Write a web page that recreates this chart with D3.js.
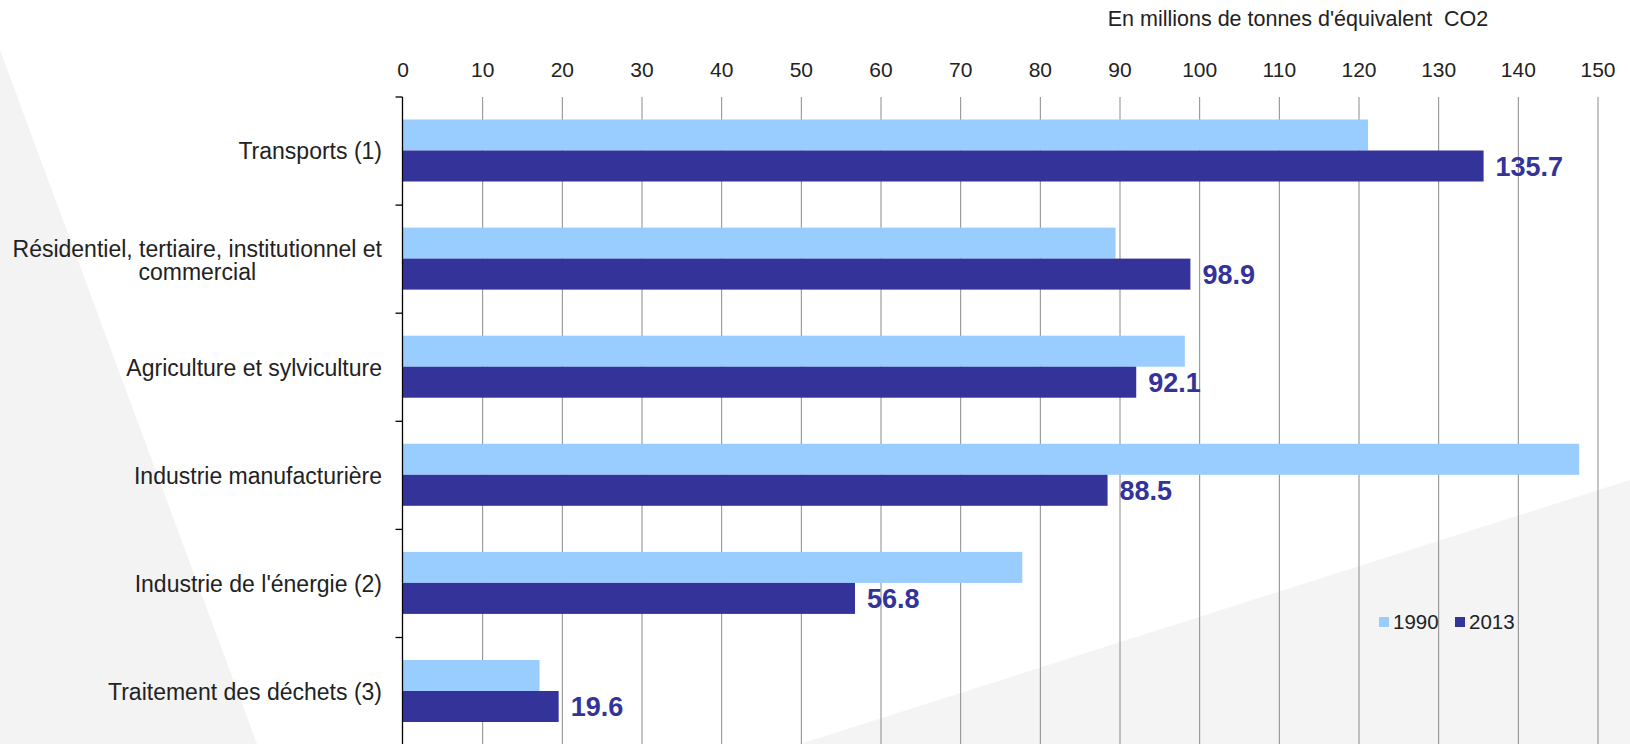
<!DOCTYPE html>
<html><head><meta charset="utf-8">
<script src="https://cdn.jsdelivr.net/npm/d3@7"></script>
<style>
body{margin:0;background:#fff;}
svg{display:block;font-family:"Liberation Sans",Arial,sans-serif;}
</style>
</head><body>
<svg id="c" width="1630" height="744"></svg>
<script>
const categories = [
  "Transports (1)",
  "Résidentiel, tertiaire, institutionnel et commercial",
  "Agriculture et sylviculture",
  "Industrie manufacturière",
  "Industrie de l'énergie (2)",
  "Traitement des déchets (3)"
];
const series = ["1990", "2013"];
const values1990 = [121.2, 89.5, 98.2, 147.7, 77.8, 17.2];
const values2013 = [135.7, 98.9, 92.1, 88.5, 56.8, 19.6];
const xTicks = [0, 10, 20, 30, 40, 50, 60, 70, 80, 90, 100, 110, 120, 130, 140, 150];
const axisTitle = "En millions de tonnes d'équivalent  CO2";
const colors = {"1990": "#99CCFF", "2013": "#333399"};

const svg = d3.select("#c");
const W = 1630, H = 744;

// background shapes
svg.append("rect").attr("width", W).attr("height", H).attr("fill", "#ffffff");
svg.append("path").attr("d", "M0,50 L257,744 L0,744 Z").attr("fill", "#f3f3f3");
svg.append("path").attr("d", "M800,744 L1630,480 L1630,744 Z").attr("fill", "#f4f4f4");

const plotTop = 97, step = 108.1;
const plotBottom = plotTop + step * categories.length;
const x = d3.scaleLinear().domain([0, 150]).range([402.5, 1597.5]);
const y0 = d3.scaleBand().domain(categories).range([plotTop, plotBottom]).padding(0);
const y1 = d3.scaleBand().domain(series).range([22.5, 84.5]).padding(0);

// top axis with gridlines
const xAxis = d3.axisTop(x).tickValues(xTicks).tickSize(-(plotBottom - plotTop)).tickPadding(20).tickFormat(d3.format("d"));
const gx = svg.append("g").attr("transform", `translate(0,${plotTop})`).call(xAxis);
gx.select(".domain").remove();
gx.selectAll(".tick line").attr("stroke", "#8a8a8a").attr("stroke-width", 1)
  .filter(d => d === 0).remove();
gx.selectAll(".tick text").attr("fill", "#222").attr("font-size", 21)
  .attr("font-family", "'Liberation Sans',Arial,sans-serif");

// title
svg.append("text").attr("x", 1298).attr("y", 26).attr("text-anchor", "middle")
  .attr("font-size", 21.5).attr("fill", "#222").style("white-space", "pre").text(axisTitle);

// bars
const rows = categories.map((c, i) => ({c, v: {"1990": values1990[i], "2013": values2013[i]}}));
const g = svg.append("g");
rows.forEach(r => {
  series.forEach(s => {
    g.append("rect")
      .attr("x", x(0))
      .attr("y", y0(r.c) + y1(s))
      .attr("width", x(r.v[s]) - x(0))
      .attr("height", y1.bandwidth())
      .attr("fill", colors[s]);
  });
  svg.append("text")
    .attr("x", x(r.v["2013"]) + 12)
    .attr("y", y0(r.c) + y1("2013") + y1.bandwidth() / 2)
    .attr("dy", "0.36em")
    .attr("font-size", 27).attr("font-weight", "bold").attr("fill", "#333399")
    .text(d3.format(".1f")(r.v["2013"]));
});

// y axis
svg.append("line").attr("x1", x(0)).attr("x2", x(0)).attr("y1", plotTop).attr("y2", plotBottom)
  .attr("stroke", "#000").attr("stroke-width", 1.3);
const boundaries = categories.map(c => y0(c)).concat([plotBottom]);
boundaries.forEach(b => {
  svg.append("line").attr("x1", x(0) - 7).attr("x2", x(0)).attr("y1", b).attr("y2", b)
    .attr("stroke", "#000").attr("stroke-width", 1.3);
});

// category labels with wrapping
const labelRight = 382, labelFont = 23, maxW = 390;
categories.forEach(c => {
  const cy = y0(c) + y0.bandwidth() / 2;
  const t = svg.append("text").attr("x", labelRight).attr("text-anchor", "end")
    .attr("font-size", labelFont).attr("fill", "#222");
  t.text(c);
  if (t.node().getComputedTextLength() > maxW) {
    const words = c.split(" ");
    let line1 = [], line2 = [];
    t.text("");
    const probe = svg.append("text").attr("font-size", labelFont);
    words.forEach(w => {
      if (line2.length === 0) {
        probe.text(line1.concat([w]).join(" "));
        if (probe.node().getComputedTextLength() <= maxW) line1.push(w); else line2.push(w);
      } else line2.push(w);
    });
    probe.text(line1.join(" "));
    const w1 = probe.node().getComputedTextLength();
    probe.remove();
    const lh = 23;
    t.append("tspan").attr("x", labelRight).attr("y", cy - lh / 2 + 1).attr("dy", "0.36em").text(line1.join(" "));
    t.append("tspan").attr("x", labelRight - w1 / 2).attr("text-anchor", "middle").attr("y", cy + lh / 2 + 1).attr("dy", "0.36em").text(line2.join(" "));
  } else {
    t.attr("y", cy).attr("dy", "0.36em");
  }
});

// legend
const legendX = [1379, 1455];
series.forEach((s, i) => {
  svg.append("rect").attr("x", legendX[i]).attr("y", 617).attr("width", 10).attr("height", 10).attr("fill", colors[s]);
  svg.append("text").attr("x", legendX[i] + 14).attr("y", 629).attr("font-size", 20.5).attr("fill", "#222").text(s);
});
</script>
</body></html>
